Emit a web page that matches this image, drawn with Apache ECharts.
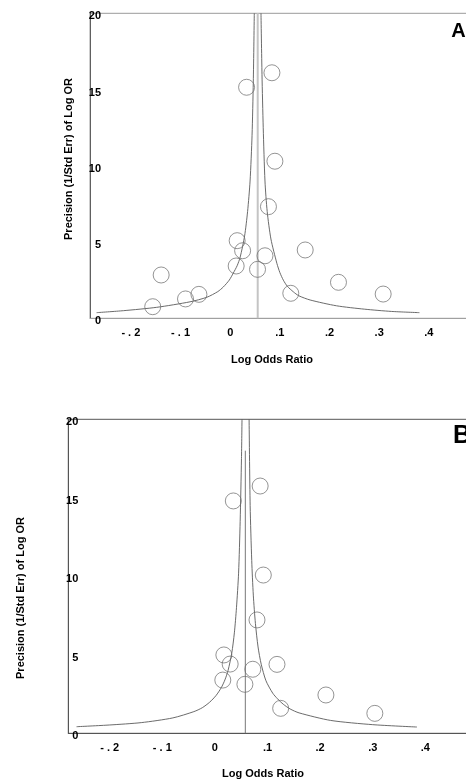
<!DOCTYPE html>
<html>
<head>
<meta charset="utf-8">
<script src="https://cdn.jsdelivr.net/npm/echarts@6/dist/echarts.min.js"></script>
<style>
html, body { margin: 0; padding: 0; background: #fff; }
#chart { width: 466px; height: 780px; }
</style>
</head>
<body>
<div id="chart"></div>
<script>
// ---------------- data ----------------
// tick labels of the log odds ratio axis
var xTickValues = [-0.2, -0.1, 0, 0.1, 0.2, 0.3, 0.4];
var xTickLabels = ['- . 2', '- . 1', '0', '.1', '.2', '.3', '.4'];

// panel A: studies (log OR, precision)
var logOrA = [-0.156, -0.139, -0.090, -0.063, 0.014, 0.025, 0.012, 0.055, 0.070, 0.077, 0.151, 0.122, 0.218, 0.308, 0.033, 0.084, 0.090];
var precA  = [0.76, 2.84, 1.27, 1.57, 5.09, 4.43, 3.43, 3.21, 4.10, 7.32, 4.48, 1.64, 2.36, 1.59, 15.15, 16.10, 10.30];
var pooledA = 0.0554;
// funnel limits
var funnelLeftA  = [[-0.269, 0.37], [-0.215, 0.5], [-0.148, 0.72], [-0.081, 1.08], [-0.047, 1.38], [-0.025, 1.75], [-0.014, 2.05], [-0.002, 2.5], [0.006, 2.95], [0.014, 3.45], [0.020, 4.0], [0.029, 5.4], [0.035, 7.0], [0.040, 9.0], [0.044, 12.0], [0.0465, 15.5], [0.0485, 20]];
var funnelRightA = [[0.381, 0.37], [0.325, 0.45], [0.27, 0.6], [0.214, 0.82], [0.161, 1.2], [0.138, 1.48], [0.127, 1.74], [0.115, 2.1], [0.107, 2.5], [0.100, 3.0], [0.094, 3.6], [0.082, 5.2], [0.0745, 7.0], [0.070, 9.0], [0.0665, 12.5], [0.064, 16], [0.062, 20]];

// panel B: studies (log OR, precision)
var logOrB = [0.017, 0.029, 0.015, 0.057, 0.072, 0.080, 0.118, 0.125, 0.211, 0.304, 0.035, 0.086, 0.092];
var precB  = [4.99, 4.41, 3.39, 3.12, 4.08, 7.22, 4.39, 1.59, 2.44, 1.27, 14.80, 15.75, 10.08];
var pooledB = 0.0578;
var pooledTopB = 18;
// funnel limits
var funnelLeftB  = [[-0.263, 0.42], [-0.20, 0.53], [-0.14, 0.68], [-0.08, 0.98], [-0.04, 1.38], [-0.024, 1.63], [-0.01, 1.98], [0.002, 2.4], [0.012, 2.9], [0.019, 3.4], [0.025, 4.0], [0.032, 5.1], [0.037, 6.4], [0.041, 8.0], [0.045, 10.2], [0.048, 13.5], [0.0505, 17.5], [0.0515, 20]];
var funnelRightB = [[0.384, 0.4], [0.30, 0.55], [0.22, 0.82], [0.16, 1.3], [0.143, 1.55], [0.13, 1.85], [0.119, 2.2], [0.11, 2.55], [0.097, 3.35], [0.088, 4.4], [0.082, 5.5], [0.077, 7], [0.073, 8.8], [0.070, 11], [0.067, 14.5], [0.065, 20]];

var yAxisName = 'Precision (1/Std Err) of Log OR';
var xAxisName = 'Log Odds Ratio';

// ---------------- helpers ----------------
function zip(xs, ys){
    var out = [];
    for(var i = 0; i < xs.length; i++){
        out.push([xs[i], ys[i]]);
    }
    return out;
}

function xLabel(v){
    for(var i = 0; i < xTickValues.length; i++){
        if(Math.abs(xTickValues[i] - v) < 1e-9) return xTickLabels[i];
    }
    return '';
}

var labelFont = {
    fontFamily: 'Liberation Sans, Arial, sans-serif',
    fontWeight: 'bold',
    fontSize: 11,
    color: '#000'
};

function makeXAxis(gridIndex, min, max, lineColor){
    return {
        type: 'value', gridIndex: gridIndex, min: min, max: max,
        axisLine: { show: true, onZero: false, lineStyle: { color: lineColor, width: 1 } },
        axisTick: { show: false },
        splitLine: { show: false },
        axisLabel: Object.assign({
            customValues: xTickValues,
            formatter: xLabel,
            margin: 9
        }, labelFont)
    };
}

function makeYAxis(gridIndex, lineColor, margin){
    return {
        type: 'value', gridIndex: gridIndex, min: 0, max: 20, interval: 5,
        axisLine: { show: true, onZero: false, lineStyle: { color: lineColor, width: 1 } },
        axisTick: { show: false },
        splitLine: { show: false },
        // labels sit a little under their tick, like the original
        axisLabel: Object.assign({
            margin: margin,
            align: 'right',
            verticalAlign: 'top',
            lineHeight: 6,
            showMinLabel: true,
            showMaxLabel: true
        }, labelFont)
    };
}

function curve(idx, data, color){
    return {
        type: 'line', xAxisIndex: idx, yAxisIndex: idx,
        data: data, symbol: 'none', smooth: 0.25, silent: true,
        lineStyle: { color: color, width: 0.9 }
    };
}

function studies(idx, data){
    return {
        type: 'scatter', xAxisIndex: idx, yAxisIndex: idx,
        data: data, symbol: 'circle', symbolSize: 16, silent: true,
        itemStyle: { color: 'rgba(255,255,255,0)', borderColor: '#6a6a6a', borderWidth: 0.9 },
        z: 5
    };
}

function textG(x, y, text, size, rot){
    return {
        type: 'text', x: x, y: y, rotation: rot || 0, silent: true,
        style: {
            text: text, fill: '#000',
            font: 'bold ' + size + 'px "Liberation Sans", Arial, sans-serif',
            textAlign: 'center', textVerticalAlign: 'middle'
        }
    };
}

// ---------------- chart ----------------
var chart = echarts.init(document.getElementById('chart'), null, { renderer: 'canvas' });

// grids run past the right edge, the figure is cropped there
var option = {
    animation: false,
    backgroundColor: '#fff',
    grid: [
        { left: 90, top: 13.3, width: 400, height: 305, outerBoundsMode: 'none', containLabel: false,
          show: true, borderColor: '#9a9a9a', borderWidth: 1 },
        { left: 68.3, top: 419.3, width: 420, height: 314, outerBoundsMode: 'none', containLabel: false,
          show: true, borderColor: '#555', borderWidth: 1 }
    ],
    xAxis: [
        makeXAxis(0, -0.2823, 0.5231, '#a0a0a0'),
        makeXAxis(1, -0.2787, 0.5197, '#555')
    ],
    yAxis: [
        makeYAxis(0, '#606060', -11),
        makeYAxis(1, '#555', -10)
    ],
    series: [
        {
            type: 'line', xAxisIndex: 0, yAxisIndex: 0, symbol: 'none', silent: true,
            data: [[pooledA, 0], [pooledA, 20]],
            lineStyle: { color: '#c4c4c4', width: 2 }
        },
        curve(0, funnelLeftA, '#5a5a5a'),
        curve(0, funnelRightA, '#5a5a5a'),
        studies(0, zip(logOrA, precA)),
        {
            type: 'line', xAxisIndex: 1, yAxisIndex: 1, symbol: 'none', silent: true,
            data: [[pooledB, 0], [pooledB, pooledTopB]],
            lineStyle: { color: '#777', width: 1 }
        },
        curve(1, funnelLeftB, '#5a5a5a'),
        curve(1, funnelRightB, '#5a5a5a'),
        studies(1, zip(logOrB, precB))
    ],
    graphic: [
        textG(68.7, 159, yAxisName, 11, Math.PI / 2),
        textG(272, 359.5, xAxisName, 11),
        textG(21, 598, yAxisName, 11, Math.PI / 2),
        textG(263, 774, xAxisName, 11),
        textG(458.5, 31, 'A', 20),
        textG(462, 436, 'B', 25)
    ]
};
chart.setOption(option);
</script>
</body>
</html>
